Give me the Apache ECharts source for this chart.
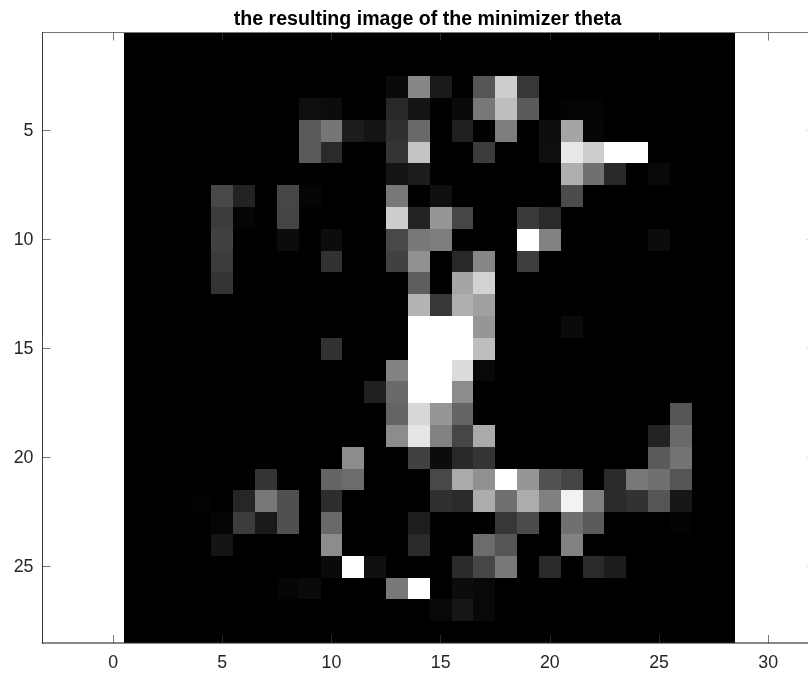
<!DOCTYPE html>
<html>
<head>
<meta charset="utf-8">
<style>html,body{margin:0;padding:0;background:#fff}#c{width:808px;height:673px}</style>
<script src="https://cdn.jsdelivr.net/npm/echarts@6/dist/echarts.min.js"></script>
</head>
<body>
<div id="c"></div>
<script>
const titleText = 'the resulting image of the minimizer theta';
const xTicks = [0, 5, 10, 15, 20, 25, 30];
const yTicks = [5, 10, 15, 20, 25];
// gray level (0-255) of each image cell, row 1 to 28, column 1 to 28
const pixelRows = [
 [0,0,0,0,0,0,0,0,0,0,0,0,0,0,0,0,0,0,0,0,0,0,0,0,0,0,0,0],
 [0,0,0,0,0,0,0,0,0,0,0,0,0,0,0,0,0,0,0,0,0,0,0,0,0,0,0,0],
 [0,0,0,0,0,0,0,0,0,0,0,0,10,135,25,0,85,205,55,0,0,0,0,0,0,0,0,0],
 [0,0,0,0,0,0,0,0,15,12,0,0,40,20,0,10,120,190,90,0,4,4,0,0,0,0,0,0],
 [0,0,0,0,0,0,0,0,90,118,28,20,48,105,0,32,0,125,0,14,165,5,0,0,0,0,0,0],
 [0,0,0,0,0,0,0,0,90,42,0,0,52,195,0,0,60,0,0,15,232,205,255,255,0,0,0,0],
 [0,0,0,0,0,0,0,0,0,0,0,0,20,28,0,0,0,0,0,0,175,112,40,0,8,0,0,0],
 [0,0,0,0,72,35,0,70,5,0,0,0,120,0,15,0,0,0,0,0,75,0,0,0,0,0,0,0],
 [0,0,0,0,60,5,0,68,0,0,0,0,205,35,150,70,0,0,58,42,0,0,0,0,0,0,0,0],
 [0,0,0,0,65,0,0,12,0,12,0,0,72,120,125,0,0,0,255,130,0,0,0,0,12,0,0,0],
 [0,0,0,0,60,0,0,0,0,50,0,0,65,145,0,40,135,0,62,0,0,0,0,0,0,0,0,0],
 [0,0,0,0,52,0,0,0,0,0,0,0,0,95,0,165,210,0,0,0,0,0,0,0,0,0,0,0],
 [0,0,0,0,0,0,0,0,0,0,0,0,0,180,55,175,160,0,0,0,0,0,0,0,0,0,0,0],
 [0,0,0,0,0,0,0,0,0,0,0,0,0,255,255,255,150,0,0,0,10,0,0,0,0,0,0,0],
 [0,0,0,0,0,0,0,0,0,50,0,0,0,255,255,255,190,0,0,0,0,0,0,0,0,0,0,0],
 [0,0,0,0,0,0,0,0,0,0,0,0,130,255,255,220,8,0,0,0,0,0,0,0,0,0,0,0],
 [0,0,0,0,0,0,0,0,0,0,0,32,105,255,255,140,0,0,0,0,0,0,0,0,0,0,0,0],
 [0,0,0,0,0,0,0,0,0,0,0,0,100,215,150,100,0,0,0,0,0,0,0,0,0,85,0,0],
 [0,0,0,0,0,0,0,0,0,0,0,0,140,230,130,70,170,0,0,0,0,0,0,0,35,105,0,0],
 [0,0,0,0,0,0,0,0,0,0,140,0,0,65,12,40,52,0,0,0,0,0,0,0,90,115,0,0],
 [0,0,0,0,0,0,52,0,0,100,108,0,0,0,72,170,145,255,150,82,68,0,42,120,112,85,0,0],
 [0,0,0,2,0,38,120,80,0,45,0,0,0,0,48,42,172,112,172,128,242,128,42,50,85,22,0,0],
 [0,0,0,0,5,60,25,80,0,105,0,0,0,30,0,0,0,55,75,0,112,90,0,0,0,3,0,0],
 [0,0,0,0,20,0,0,0,0,140,0,0,0,42,0,0,108,85,0,0,130,0,0,0,0,0,0,0],
 [0,0,0,0,0,0,0,0,0,10,255,15,0,0,0,42,70,120,0,42,0,42,28,0,0,0,0,0],
 [0,0,0,0,0,0,0,5,10,0,0,0,120,255,0,12,8,0,0,0,0,0,0,0,0,0,0,0],
 [0,0,0,0,0,0,0,0,0,0,0,0,0,0,8,22,8,0,0,0,0,0,0,0,0,0,0,0],
 [0,0,0,0,0,0,0,0,0,0,0,0,0,0,0,0,0,0,0,0,0,0,0,0,0,0,0,0]
];

const cells = [];
pixelRows.forEach((row, r) => row.forEach((v, c) => cells.push([c + 1, r + 1, v])));

const tickColor = 'rgba(58,58,58,0.69)';
const xBase = {
  type: 'value', min: -3.235, max: 31.8, z: 5, splitLine: { show: false },
  axisLine: { onZero: false, lineStyle: { color: tickColor, width: 1 } }
};
const yBase = {
  type: 'value', inverse: true, min: 0.5, max: 28.5, z: 5, splitLine: { show: false },
  axisLine: { onZero: false, lineStyle: { color: tickColor, width: 1 } }
};

const chart = echarts.init(document.getElementById('c'), null, { renderer: 'canvas' });
chart.setOption({
  animation: false,
  backgroundColor: '#fff',
  title: {
    text: titleText, left: 422.5, top: 5, textAlign: 'center',
    textStyle: { fontFamily: 'Liberation Sans', fontWeight: 'bold', fontSize: 19.6, color: '#000' }
  },
  grid: { left: 42.5, right: 0.5, top: 32.5, bottom: 30 },
  visualMap: { show: false, type: 'continuous', dimension: 2, min: 0, max: 255, seriesIndex: 0,
    inRange: { color: ['#000000', '#ffffff'] } },
  xAxis: [
    Object.assign({}, xBase, {
      position: 'bottom',
      axisLine: { onZero: false, lineStyle: { color: 'rgba(46,46,46,0.57)', width: 2 } },
      axisTick: { inside: true, length: 8, lineStyle: { color: tickColor }, customValues: xTicks },
      axisLabel: { color: '#262626', fontFamily: 'Liberation Sans', fontSize: 17.8, margin: 11,
        customValues: xTicks }
    }),
    Object.assign({}, xBase, {
      position: 'top',
      axisTick: { inside: true, length: 8, lineStyle: { color: tickColor }, customValues: xTicks },
      axisLabel: { show: false }
    })
  ],
  yAxis: [
    Object.assign({}, yBase, {
      position: 'left',
      axisLine: { onZero: false, lineStyle: { color: '#3c3c3c', width: 1 } },
      axisTick: { inside: true, length: 8, lineStyle: { color: tickColor }, customValues: yTicks },
      axisLabel: { color: '#262626', fontFamily: 'Liberation Sans', fontSize: 17.8, margin: 9,
        customValues: yTicks }
    }),
    Object.assign({}, yBase, {
      position: 'right',
      axisLine: { show: false, onZero: false },
      axisTick: { inside: true, length: 1, lineStyle: { color: '#bbbbbb' }, customValues: yTicks },
      axisLabel: { show: false }
    })
  ],
  series: [{
    type: 'custom',
    coordinateSystem: 'cartesian2d',
    clip: true,
    silent: true,
    z: 1,
    encode: { x: 0, y: 1 },
    data: cells,
    renderItem: function (params, api) {
      const x = api.value(0), y = api.value(1);
      const a = api.coord([x - 0.5, y - 0.5]);
      const b = api.coord([x + 0.5, y + 0.5]);
      const l = Math.round(a[0]), t = Math.round(a[1]);
      return {
        type: 'rect',
        shape: { x: l, y: t, width: Math.round(b[0]) - l, height: Math.round(b[1]) - t },
        style: { fill: api.visual('color') }
      };
    }
  }]
});
</script>
</body>
</html>
